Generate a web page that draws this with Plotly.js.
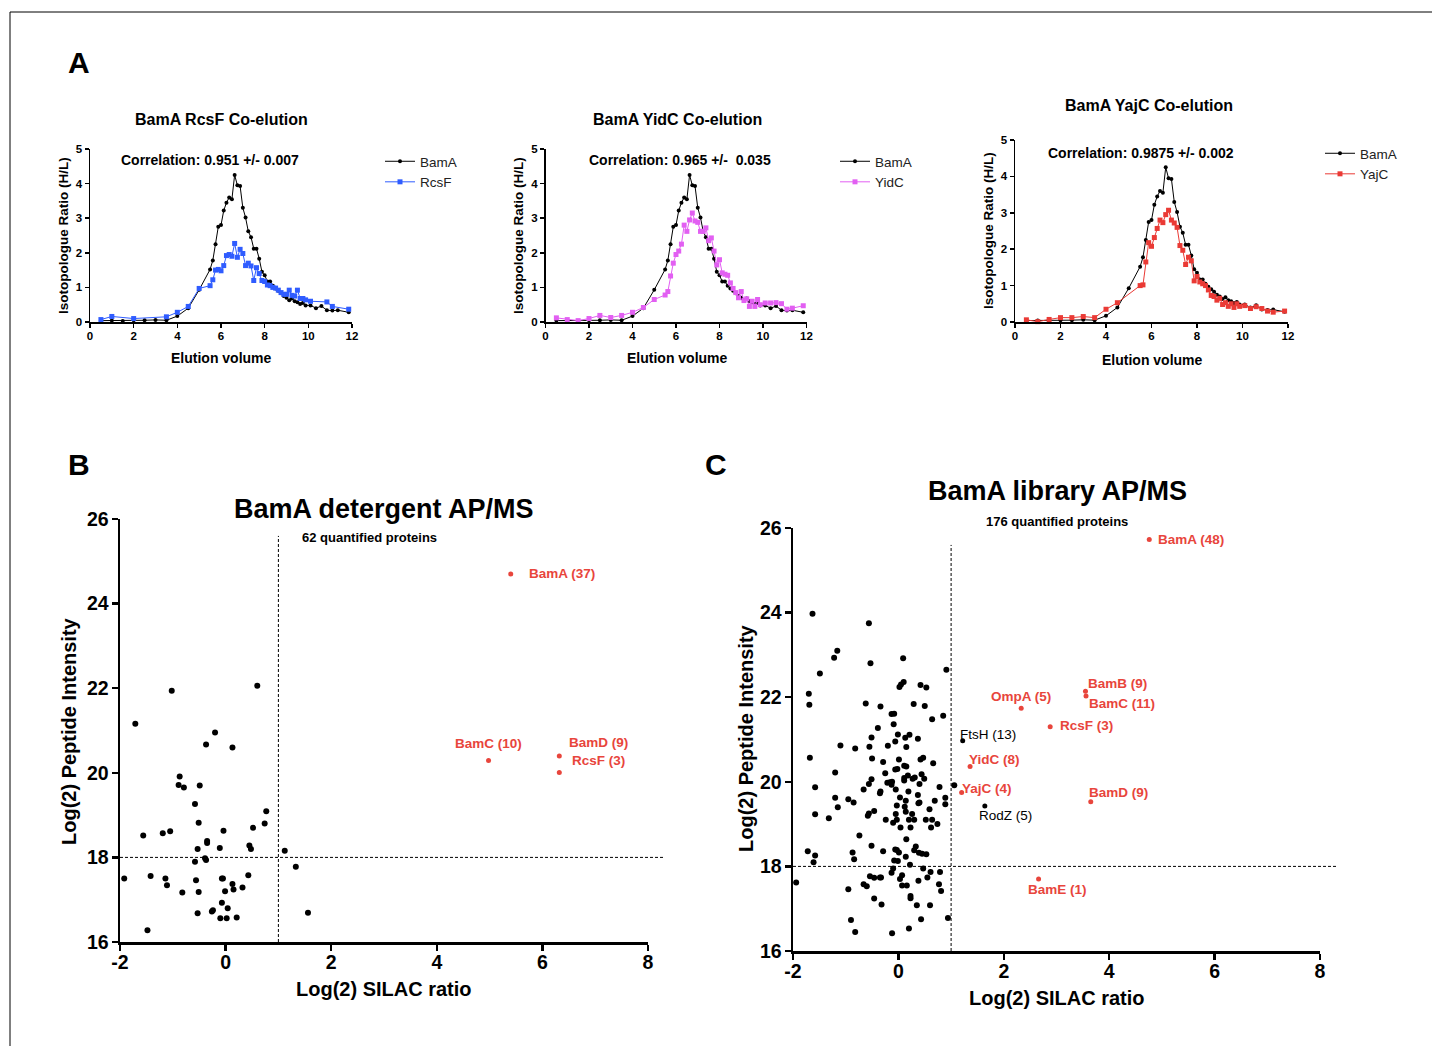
<!DOCTYPE html>
<html>
<head>
<meta charset="utf-8">
<script src="https://cdn.plot.ly/plotly-3.0.1.min.js"></script>
<style>html,body{margin:0;padding:0;background:#fff;}#chart{width:1432px;height:1046px;}</style>
</head>
<body>
<div id="chart"></div>
<script>
// ---------------- DATA ----------------
// Panel A: co-elution profiles (elution volume vs isotopologue ratio H/L)
const bamaX = [0.5,1,1.5,2,2.5,3,3.5,4,4.5,5,5.5,5.625,5.75,5.875,6,6.125,6.25,6.375,6.5,6.625,6.75,6.875,7,7.125,7.25,7.375,7.5,7.625,7.75,7.875,8,8.125,8.25,8.375,8.5,8.625,8.75,8.875,9,9.125,9.25,9.375,9.5,9.625,9.75,9.875,10.1,10.35,10.6,10.85,11.1,11.35,11.85];
const bamaY = [0.04,0.04,0.03,0.05,0.05,0.06,0.05,0.17,0.4,0.93,1.52,1.78,2.25,2.75,2.8,3.22,3.45,3.6,3.55,4.25,3.95,3.93,3.3,3.02,2.62,2.45,2.12,2.12,1.83,1.45,1.35,1.17,1.17,1.05,0.97,0.9,0.83,0.75,0.7,0.63,0.68,0.6,0.57,0.52,0.55,0.48,0.48,0.4,0.46,0.34,0.33,0.34,0.28];

const rcsfX = [0.5,1,2,3.5,4,4.5,5,5.5,5.625,5.75,5.875,6,6.125,6.25,6.375,6.5,6.625,6.75,6.875,7,7.125,7.25,7.375,7.5,7.625,7.75,7.875,8,8.125,8.25,8.375,8.5,8.625,8.75,8.875,9,9.125,9.25,9.375,9.5,9.625,9.75,9.875,10.1,10.85,11.1,11.85];
const rcsfY = [0.07,0.16,0.1,0.15,0.28,0.45,0.97,1.05,1.22,1.5,1.52,1.48,1.63,1.92,1.95,1.9,2.27,1.87,2.1,1.98,1.63,1.7,1.62,1.2,1.57,1.4,1.2,1.17,1.07,1.05,1.0,0.98,0.92,0.85,0.8,0.8,0.92,0.77,0.75,0.92,0.68,0.68,0.64,0.6,0.58,0.45,0.37];

const yidcX = [0.5,1,1.5,2,2.5,3,3.5,4,4.5,5,5.5,5.625,5.75,5.875,6,6.125,6.25,6.375,6.5,6.625,6.75,6.875,7,7.125,7.25,7.375,7.5,7.625,7.75,7.875,8,8.125,8.25,8.375,8.5,8.625,8.75,8.875,9,9.125,9.25,9.375,9.5,9.625,9.75,9.875,10.1,10.35,10.6,10.85,11.1,11.35,11.85];
const yidcY = [0.12,0.07,0.04,0.1,0.19,0.13,0.19,0.28,0.42,0.65,0.78,0.88,1.33,1.7,1.95,2.05,2.25,2.8,2.62,2.95,3.15,2.92,2.88,2.62,2.62,2.72,2.35,2.43,2.05,1.65,1.8,1.42,1.38,1.35,1.13,0.97,0.85,0.7,0.88,0.62,0.67,0.45,0.6,0.45,0.65,0.5,0.55,0.55,0.56,0.53,0.37,0.4,0.47];

const yajcX = [0.5,1,1.5,2,2.5,3,3.5,4,4.5,5.5,5.625,5.75,5.875,6,6.125,6.25,6.375,6.5,6.625,6.75,6.875,7,7.125,7.25,7.375,7.5,7.625,7.75,7.875,8,8.125,8.25,8.375,8.5,8.625,8.75,8.875,9,9.125,9.25,9.375,9.5,9.625,9.75,9.875,10.1,10.35,10.6,10.85,11.1,11.35,11.85];
const yajcY = [0.06,0.01,0.07,0.12,0.12,0.15,0.12,0.35,0.53,1.0,1.02,1.65,2.18,2.08,2.32,2.57,2.8,2.73,2.95,3.07,2.8,2.72,2.6,2.1,1.97,1.58,1.78,1.68,1.13,1.25,1.1,1.05,1.0,0.88,0.73,0.7,0.6,0.65,0.48,0.53,0.43,0.5,0.4,0.5,0.43,0.45,0.37,0.42,0.37,0.3,0.27,0.3];

const panelATitles = ["BamA RcsF Co-elution","BamA YidC Co-elution","BamA YajC Co-elution"];
const panelACorr = ["Correlation: 0.951 +/- 0.007","Correlation: 0.965 +/-  0.035","Correlation: 0.9875 +/- 0.002"];

// Panel B: BamA detergent AP/MS
const detX = [-1.92,-1.71,-1.56,-1.48,-1.42,-1.19,-1.14,-1.11,-1.05,-1.02,-0.89,-0.87,-0.82,-0.79,-0.58,-0.58,-0.56,-0.53,-0.53,-0.51,-0.51,-0.49,-0.37,-0.39,-0.37,-0.35,-0.35,-0.26,-0.24,-0.20,-0.11,-0.07,-0.07,-0.05,-0.04,-0.01,0.02,0.04,0.13,0.13,0.15,0.21,0.32,0.43,0.45,0.48,0.52,0.60,0.74,0.77,1.12,1.33,1.56,-0.10];
const detY = [17.5,21.16,18.52,16.28,17.56,18.57,17.5,17.34,18.62,21.94,19.71,19.91,17.17,19.65,19.26,17.9,17.46,18.2,16.68,18.82,17.18,19.7,20.67,17.98,17.94,18.39,18.34,16.72,16.75,20.95,18.22,16.93,17.5,17.5,18.63,17.2,16.56,16.8,20.6,17.37,17.24,16.58,17.29,17.58,18.28,18.2,18.7,22.06,18.8,19.09,18.16,17.78,16.69,16.56];
const detHitNames = ["BamA (37)","BamC (10)","BamD (9)","RcsF (3)"];
const detHitX = [5.40,4.98,6.32,6.32];
const detHitY = [24.70,20.29,20.40,20.01];
const detCount = "62 quantified proteins";

// Panel C: BamA library AP/MS
const libX = [-1.94,-1.63,-1.16,-1.22,-1.49,-1.70,-1.69,-1.68,-1.58,-1.58,-1.20,-1.10,-1.20,-1.15,-1.32,-1.72,-1.58,-1.61,-0.82,-0.95,-0.85,-0.74,-0.87,-0.84,-0.95,-0.90,-0.82,-0.56,-0.53,-0.62,-0.34,-0.39,-0.51,-0.55,-0.50,-0.51,-0.56,-0.66,-0.29,-0.25,-0.20,-0.34,-0.35,-0.46,-0.56,-0.58,-0.24,-0.51,-0.29,-0.66,-0.60,-0.54,-0.46,-0.35,-0.33,-0.46,-0.32,-0.13,-0.08,-0.09,-0.01,-0.06,0.01,-0.02,-0.06,-0.21,-0.16,-0.12,-0.13,-0.05,0.03,-0.03,-0.05,-0.03,-0.10,0.04,-0.06,-0.03,0.01,-0.08,-0.01,-0.10,-0.13,0.03,0.07,-0.12,0.02,0.05,0.10,0.09,0.29,0.13,0.21,0.15,0.11,0.15,0.18,0.11,0.11,0.27,0.31,0.19,0.14,0.12,0.14,0.26,0.20,0.30,0.23,0.15,0.33,0.30,0.14,0.22,0.07,0.16,0.23,0.23,0.35,0.20,0.37,0.42,0.53,0.50,0.64,0.85,0.91,0.42,0.47,0.66,0.44,0.49,0.40,0.37,0.38,0.40,0.59,0.69,0.78,0.89,0.89,0.52,0.64,0.62,0.74,0.39,0.45,0.53,0.47,0.61,0.55,0.38,0.79,0.77,0.81,0.60,0.43,0.94,1.06];
const libY = [17.62,23.97,23.10,22.93,22.56,22.08,21.82,20.57,19.87,19.23,20.22,20.86,19.62,19.40,19.14,18.36,18.26,18.10,20.79,19.59,19.51,18.73,18.33,18.17,17.46,16.73,16.45,23.75,22.80,21.85,21.78,21.27,21.05,20.83,20.55,20.06,19.95,19.82,20.47,20.20,20.85,19.77,19.73,19.31,19.25,19.20,19.10,18.49,18.36,17.58,17.53,17.77,17.73,17.74,17.74,17.24,17.10,21.60,21.61,21.36,21.12,20.95,20.53,20.30,20.29,19.98,19.99,20.00,19.93,19.82,19.63,19.44,19.24,19.10,19.03,18.92,18.40,18.39,18.33,18.14,18.13,17.95,17.85,17.70,17.55,16.42,22.24,22.30,22.36,22.92,21.84,21.04,21.11,20.82,20.38,20.36,20.15,20.03,20.09,20.07,20.10,19.77,19.55,19.41,19.29,19.24,19.10,19.10,18.92,18.64,18.47,18.38,18.23,18.04,17.79,17.55,17.30,17.25,17.08,16.53,21.02,22.29,22.23,21.79,21.48,21.56,22.65,20.53,20.57,20.44,20.18,20.07,19.95,19.69,19.49,19.51,19.35,19.55,19.88,19.62,19.47,19.10,19.10,18.92,19.00,18.32,18.30,18.29,17.95,17.87,17.74,17.66,17.87,17.58,17.42,17.08,16.75,16.78,19.92];
const libHitNames = ["BamA (48)","BamB (9)","BamC (11)","OmpA (5)","RcsF (3)","YidC (8)","YajC (4)","BamD (9)","BamE (1)"];
const libHitX = [4.76,3.55,3.56,2.33,2.88,1.36,1.20,3.65,2.66];
const libHitY = [25.73,22.14,22.03,21.74,21.30,20.36,19.75,19.53,17.70];
const libNoteNames = ["FtsH (13)","RodZ (5)"];
const libNoteX = [1.22,1.64];
const libNoteY = [20.97,19.43];
const libCount = "176 quantified proteins";

// scatter-panel tick labels (plain hyphen minus as in the original)
const silacTickVals = [-2,0,2,4,6,8];
const silacTickText = ["-2","0","2","4","6","8"];
const intensTickVals = [16,18,20,22,24,26];
const intensTickText = ["16","18","20","22","24","26"];

// thresholds (Log2 SILAC ratio = 1, Log2 intensity = 18)
const cutX = 1;
const cutY = 18;

// ---------------- LAYOUT / STYLE ----------------
const W = 1432, H = 1046;
const FONT = 'Liberation Sans, Arial, Helvetica, sans-serif';
const px = v => v / W;
const py = v => 1 - v / H;
const RED = '#e8453c';

const box = {
  A1: {x0: 90, x1: 352, y0: 149, y1: 322},
  A2: {x0: 545.5, x1: 806.5, y0: 149, y1: 322},
  A3: {x0: 1015, x1: 1288, y0: 140, y1: 322},
  B:  {x0: 120, x1: 648, y0: 519, y1: 942},
  C:  {x0: 793, x1: 1320, y0: 528, y1: 951}
};
const rangeA = {x: [0, 12], y: [0, 5]};
const rangeS = {x: [-2, 8], y: [16, 26]};

function axA(b, isX, anchor) {
  return {
    domain: isX ? [px(b.x0), px(b.x1)] : [py(b.y1), py(b.y0)],
    range: isX ? rangeA.x : rangeA.y, dtick: isX ? 2 : 1, tick0: 0,
    anchor: anchor, showgrid: false, zeroline: false, showline: true,
    linecolor: '#000', linewidth: 1.5, ticks: 'outside', ticklen: 4, tickwidth: 1.5, tickcolor: '#000',
    tickfont: {family: FONT, size: 11.5, color: '#000', weight: 'bold'},
    ticklabelstandoff: isX ? -1 : 0,
    automargin: false, fixedrange: true
  };
}
function axS(b, isX, anchor) {
  return {
    domain: isX ? [px(b.x0), px(b.x1)] : [py(b.y1), py(b.y0)],
    range: isX ? rangeS.x : rangeS.y,
    tickmode: 'array', tickvals: isX ? silacTickVals : intensTickVals, ticktext: isX ? silacTickText : intensTickText,
    anchor: anchor, showgrid: false, zeroline: false, showline: true,
    linecolor: '#000', linewidth: 2.5, ticks: 'outside', ticklen: 6, tickwidth: 2.5, tickcolor: '#000',
    tickfont: {family: FONT, size: 19.5, color: '#000', weight: 'bold'},
    ticklabelstandoff: isX ? -5 : -1,
    automargin: false, fixedrange: true
  };
}

function profile(x, y, name, color, symbol, size, xa, ya, leg) {
  return {type: 'scatter', mode: 'lines+markers', x: x, y: y, name: name,
    xaxis: xa, yaxis: ya, legend: leg, cliponaxis: false,
    line: {color: color, width: 1}, marker: {color: color, symbol: symbol, size: size}};
}

const traces = [
  profile(bamaX, bamaY, 'BamA', '#000', 'circle', 4, 'x', 'y', 'legend'),
  profile(rcsfX, rcsfY, 'RcsF', '#2f5cff', 'square', 5, 'x', 'y', 'legend'),
  profile(bamaX, bamaY, 'BamA', '#000', 'circle', 4, 'x2', 'y2', 'legend2'),
  profile(yidcX, yidcY, 'YidC', '#e25ff2', 'square', 5, 'x2', 'y2', 'legend2'),
  profile(bamaX, bamaY, 'BamA', '#000', 'circle', 4, 'x3', 'y3', 'legend3'),
  profile(yajcX, yajcY, 'YajC', '#ea3a35', 'square', 5, 'x3', 'y3', 'legend3'),
  {type: 'scatter', mode: 'markers', x: detX, y: detY, xaxis: 'x4', yaxis: 'y4', showlegend: false, cliponaxis: false,
    marker: {color: '#000', size: 6}},
  {type: 'scatter', mode: 'markers', x: detHitX, y: detHitY, text: detHitNames, xaxis: 'x4', yaxis: 'y4', showlegend: false, cliponaxis: false,
    marker: {color: RED, size: 5}},
  {type: 'scatter', mode: 'markers', x: libX, y: libY, xaxis: 'x5', yaxis: 'y5', showlegend: false, cliponaxis: false,
    marker: {color: '#000', size: 6}},
  {type: 'scatter', mode: 'markers', x: libNoteX, y: libNoteY, text: libNoteNames, xaxis: 'x5', yaxis: 'y5', showlegend: false, cliponaxis: false,
    marker: {color: '#000', size: 5}},
  {type: 'scatter', mode: 'markers', x: libHitX, y: libHitY, text: libHitNames, xaxis: 'x5', yaxis: 'y5', showlegend: false, cliponaxis: false,
    marker: {color: RED, size: 5}}
];

function txt(text, x, y, size, extra) {
  return Object.assign({xref: 'paper', yref: 'paper', x: px(x), y: py(y), text: text, showarrow: false,
    xanchor: 'center', yanchor: 'middle', font: {family: FONT, size: size, color: '#000', weight: 'bold'}}, extra || {});
}

const annotations = [
  txt('A', 79, 62, 30), txt('B', 79, 464, 30), txt('C', 716, 464, 30),
  txt(panelATitles[0], 221, 120, 16), txt(panelATitles[1], 677, 120, 16), txt(panelATitles[2], 1149, 105, 16),
  txt(panelACorr[0], 210, 160, 14), txt(panelACorr[1], 680, 160, 14), txt(panelACorr[2], 1141, 153, 14),
  txt('Elution volume', 221, 358, 14), txt('Elution volume', 677, 358, 14), txt('Elution volume', 1152, 360, 14),
  txt('Isotopologue Ratio (H/L)', 63, 236, 13.5, {textangle: -90}),
  txt('Isotopologue Ratio (H/L)', 518, 236, 13.5, {textangle: -90}),
  txt('Isotopologue Ratio (H/L)', 988, 231, 13.5, {textangle: -90}),
  txt('BamA detergent AP/MS', 384, 509, 27),
  txt(detCount, 300, 537, 13, {xanchor: 'left'}),
  txt('Log(2) SILAC ratio', 384, 989, 20),
  txt('Log(2) Peptide Intensity', 69, 731, 20, {textangle: -90}),
  txt('BamA library AP/MS', 1057, 491, 27),
  txt(libCount, 1057, 521, 13),
  txt('Log(2) SILAC ratio', 1057, 998, 20),
  txt('Log(2) Peptide Intensity', 746, 738, 20, {textangle: -90})
];

// label placement (pixels relative to the point)
const detLabelPos = [
  {a: 'left', dx: 16, dy: 0}, {a: 'center', dx: 0, dy: 17}, {a: 'left', dx: 8, dy: 13}, {a: 'left', dx: 11, dy: 12}
];
const libLabelPos = [
  {a: 'left', dx: 7, dy: 0}, {a: 'left', dx: 1, dy: 8}, {a: 'left', dx: 1, dy: -8}, {a: 'center', dx: 0, dy: 12},
  {a: 'left', dx: 8, dy: 1}, {a: 'left', dx: -3, dy: 7}, {a: 'left', dx: -2, dy: 4}, {a: 'left', dx: -4, dy: 9},
  {a: 'center', dx: 19, dy: -10}
];
const libNotePos = [{a: 'left', dx: -5, dy: 6}, {a: 'left', dx: -8, dy: -10}];

function ptLabels(names, xs, ys, pos, xa, ya, color, weight) {
  return names.map((n, i) => ({xref: xa, yref: ya, x: xs[i], y: ys[i], text: n, showarrow: false,
    xanchor: pos[i].a, yanchor: 'middle', xshift: pos[i].dx, yshift: pos[i].dy,
    font: {family: FONT, size: 13.5, color: color, weight: weight}}));
}
annotations.push(...ptLabels(detHitNames, detHitX, detHitY, detLabelPos, 'x4', 'y4', RED, 'bold'));
annotations.push(...ptLabels(libHitNames, libHitX, libHitY, libLabelPos, 'x5', 'y5', RED, 'bold'));
annotations.push(...ptLabels(libNoteNames, libNoteX, libNoteY, libNotePos, 'x5', 'y5', '#000', 'normal'));

// dashed threshold lines drawn in axis-domain units (so they can run past the axis end like the original)
const frac = (v, r) => (v - r[0]) / (r[1] - r[0]);
const dashTop = 25.6;   // top end of the vertical cut line (data units)
const dashRight = 8.32; // right end of the horizontal cut line (data units)
function cutLines(xa, ya) {
  const st = {color: '#000', width: 1, dash: '3px,2px'};
  return [
    {type: 'line', xref: xa + ' domain', yref: ya + ' domain', x0: frac(cutX, rangeS.x), x1: frac(cutX, rangeS.x),
      y0: 0, y1: frac(dashTop, rangeS.y), line: st, layer: 'below'},
    {type: 'line', xref: xa + ' domain', yref: ya + ' domain', x0: 0, x1: frac(dashRight, rangeS.x),
      y0: frac(cutY, rangeS.y), y1: frac(cutY, rangeS.y), line: st, layer: 'below'}
  ];
}
const shapes = [
  {type: 'line', xref: 'paper', yref: 'paper', x0: px(10), x1: px(1432), y0: py(12), y1: py(12), line: {color: '#000', width: 1}},
  {type: 'line', xref: 'paper', yref: 'paper', x0: px(10), x1: px(10), y0: py(12), y1: py(1046), line: {color: '#000', width: 1}},
  ...cutLines('x4', 'y4'), ...cutLines('x5', 'y5')
];

function leg(x, y) {
  return {x: px(x), y: py(y), xanchor: 'left', yanchor: 'top', bgcolor: 'rgba(0,0,0,0)', borderwidth: 0,
    font: {family: FONT, size: 13.5, color: '#222'}, itemwidth: 30, tracegroupgap: 0};
}

const layout = {
  width: W, height: H, margin: {l: 0, r: 0, t: 0, b: 0}, paper_bgcolor: '#fff', plot_bgcolor: 'rgba(0,0,0,0)',
  font: {family: FONT, color: '#000'},
  showlegend: true,
  xaxis: axA(box.A1, true, 'y'), yaxis: axA(box.A1, false, 'x'),
  xaxis2: axA(box.A2, true, 'y2'), yaxis2: axA(box.A2, false, 'x2'),
  xaxis3: axA(box.A3, true, 'y3'), yaxis3: axA(box.A3, false, 'x3'),
  xaxis4: axS(box.B, true, 'y4'), yaxis4: axS(box.B, false, 'x4'),
  xaxis5: axS(box.C, true, 'y5'), yaxis5: axS(box.C, false, 'x5'),
  legend: leg(380, 146), legend2: leg(835, 146), legend3: leg(1320, 138),
  annotations: annotations, shapes: shapes, hovermode: false
};

Plotly.newPlot('chart', traces, layout, {staticPlot: true, displayModeBar: false});
</script>
</body>
</html>
